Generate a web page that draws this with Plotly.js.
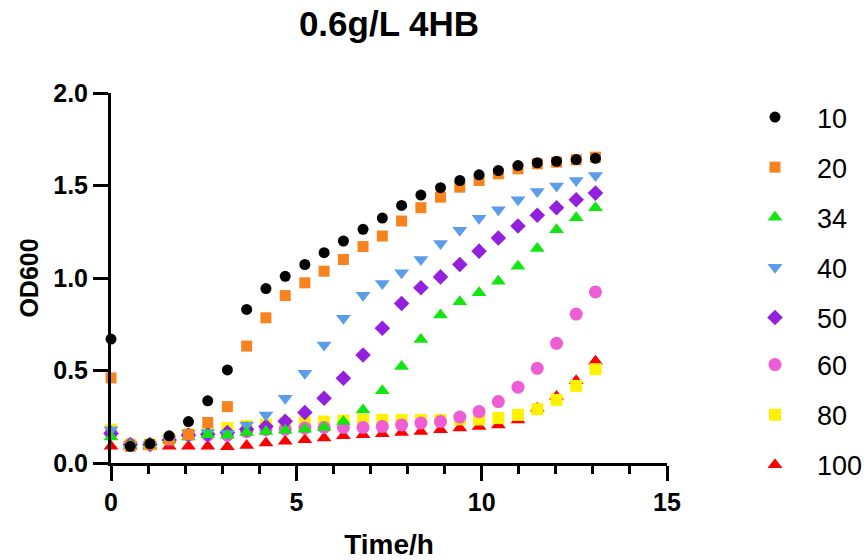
<!DOCTYPE html>
<html>
<head>
<meta charset="utf-8">
<script src="https://cdn.plot.ly/plotly-3.0.1.min.js"></script>
<style>html,body{margin:0;padding:0;background:#fff;}#chart{width:867px;height:560px;}</style>
</head>
<body>
<div id="chart"></div>
<script>
// Time points (h)
const time = [0, 0.52, 1.05, 1.57, 2.09, 2.61, 3.14, 3.66, 4.18, 4.7, 5.23, 5.75, 6.27, 6.8, 7.32, 7.84, 8.36, 8.89, 9.41, 9.93, 10.45, 10.98, 11.5, 12.02, 12.55, 13.07];

// OD600 series
const od10  = [0.67, 0.09, 0.104, 0.147, 0.224, 0.336, 0.503, 0.83, 0.943, 1.009, 1.073, 1.137, 1.2, 1.263, 1.324, 1.392, 1.448, 1.488, 1.527, 1.558, 1.581, 1.608, 1.623, 1.631, 1.64, 1.647];
const od20  = [0.46, 0.09, 0.1, 0.126, 0.153, 0.219, 0.305, 0.632, 0.785, 0.905, 0.974, 1.037, 1.1, 1.17, 1.227, 1.308, 1.38, 1.437, 1.491, 1.527, 1.563, 1.59, 1.617, 1.626, 1.639, 1.653];
const od34  = [0.14, 0.1, 0.1, 0.125, 0.14, 0.153, 0.15, 0.165, 0.17, 0.177, 0.183, 0.192, 0.224, 0.287, 0.391, 0.521, 0.668, 0.8, 0.871, 0.92, 0.983, 1.064, 1.159, 1.261, 1.326, 1.38];
const od40  = [0.18, 0.1, 0.1, 0.13, 0.162, 0.165, 0.16, 0.206, 0.26, 0.35, 0.485, 0.638, 0.782, 0.907, 0.97, 1.028, 1.1, 1.186, 1.258, 1.323, 1.369, 1.423, 1.468, 1.497, 1.527, 1.554];
const od50  = [0.16, 0.1, 0.1, 0.125, 0.15, 0.155, 0.165, 0.183, 0.197, 0.226, 0.273, 0.35, 0.458, 0.584, 0.728, 0.862, 0.947, 1.006, 1.073, 1.145, 1.216, 1.281, 1.339, 1.38, 1.423, 1.459];
const od60  = [0.16, 0.1, 0.1, 0.125, 0.153, 0.15, 0.15, 0.17, 0.18, 0.182, 0.189, 0.192, 0.192, 0.192, 0.197, 0.206, 0.216, 0.224, 0.248, 0.278, 0.332, 0.41, 0.512, 0.647, 0.805, 0.925];
const od80  = [0.18, 0.1, 0.1, 0.13, 0.155, 0.168, 0.189, 0.201, 0.206, 0.217, 0.219, 0.224, 0.229, 0.233, 0.233, 0.233, 0.233, 0.233, 0.236, 0.235, 0.243, 0.26, 0.291, 0.341, 0.417, 0.507];
const od100 = [0.09, 0.09, 0.09, 0.09, 0.091, 0.091, 0.088, 0.095, 0.108, 0.117, 0.126, 0.135, 0.147, 0.153, 0.158, 0.165, 0.17, 0.18, 0.189, 0.197, 0.206, 0.233, 0.296, 0.359, 0.445, 0.55];

const names   = ['10', '20', '34', '40', '50', '60', '80', '100'];
const values  = [od10, od20, od34, od40, od50, od60, od80, od100];
const symbols = ['circle', 'square', 'triangle-up', 'triangle-down', 'diamond', 'circle', 'square', 'triangle-up'];
const colors  = ['#000000', '#F7831F', '#11E611', '#5C9DEA', '#9320DD', '#EE5CD6', '#FFF200', '#FF0000'];
const sizes   = [11, 11, 13, 13, 12, 13, 12, 13];

// draw order (bottom -> top)
const drawOrder = [7, 6, 5, 4, 3, 2, 1, 0];

const traces = drawOrder.map(i => ({
  type: 'scatter',
  mode: 'markers',
  x: time,
  y: values[i],
  name: names[i],
  legend: i < 5 ? 'legend' : 'legend2',
  legendgroup: 'g' + i,
  legendrank: i + 1,
  cliponaxis: false,
  marker: { symbol: symbols[i], color: colors[i], size: sizes[i], line: { width: 0 } }
}));

const fam = 'Liberation Sans, Arial, sans-serif';
const axisFont = { family: fam, size: 25, color: '#000', weight: 'bold' };
const legendBase = {
  x: 1.1187, xanchor: 'left', xref: 'paper',
  yanchor: 'top', yref: 'paper',
  traceorder: 'grouped',
  tracegroupgap: 12,
  itemwidth: 74,
  font: { family: fam, size: 27, color: '#000' },
  bgcolor: 'rgba(0,0,0,0)',
  borderwidth: 0
};

const layout = {
  width: 867,
  height: 560,
  paper_bgcolor: '#fff',
  plot_bgcolor: '#fff',
  margin: { l: 111, r: 200, t: 93, b: 97, pad: 0, autoexpand: false },
  title: {
    text: '0.6g/L 4HB',
    font: { family: fam, size: 35, color: '#000', weight: 'bold' },
    x: 0.5, xref: 'paper', xanchor: 'center',
    y: 1, yref: 'container', yanchor: 'top', pad: { t: 11 }
  },
  showlegend: true,
  legend: Object.assign({}, legendBase, { y: 1.0 }),
  legend2: Object.assign({}, legendBase, { y: 0.331 }),
  xaxis: {
    range: [0, 15],
    tick0: 0, dtick: 5,
    showgrid: false, zeroline: false,
    showline: true, linecolor: '#000', linewidth: 3,
    ticks: 'outside', ticklen: 15, tickwidth: 3, tickcolor: '#000',
    minor: { dtick: 1, tick0: 0, ticks: 'outside', ticklen: 8, tickwidth: 3, tickcolor: '#000', showgrid: false },
    tickfont: axisFont,
    title: { text: 'Time/h', font: { family: fam, size: 28, color: '#000', weight: 'bold' }, standoff: 22 }
  },
  yaxis: {
    range: [0, 2],
    tick0: 0, dtick: 0.5, tickformat: '.1f',
    showgrid: false, zeroline: false,
    showline: true, linecolor: '#000', linewidth: 3,
    ticks: 'outside', ticklen: 15, tickwidth: 3, tickcolor: '#000',
    tickfont: axisFont,
    title: { text: 'OD600', font: { family: fam, size: 25, color: '#000', weight: 'bold' }, standoff: 8 }
  }
};

Plotly.newPlot('chart', traces, layout, { displayModeBar: false, staticPlot: true });
</script>
</body>
</html>
